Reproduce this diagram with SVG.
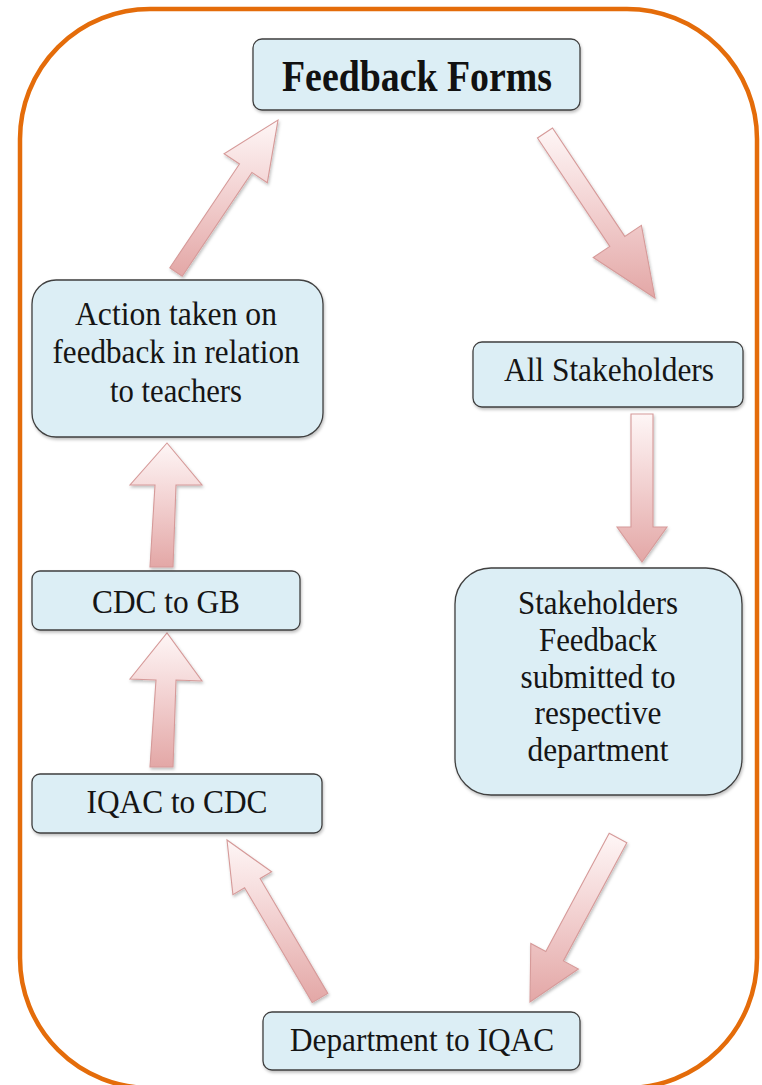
<svg xmlns="http://www.w3.org/2000/svg" width="762" height="1085" viewBox="0 0 762 1085">
<defs>
<linearGradient id="ag" x1="0" y1="0" x2="0" y2="1">
<stop offset="0" stop-color="#FEF6F6"/>
<stop offset="0.45" stop-color="#F3D3D3"/>
<stop offset="1" stop-color="#E3A7A6"/>
</linearGradient>
<filter id="sh" x="-10%" y="-10%" width="120%" height="130%">
<feDropShadow dx="1" dy="2" stdDeviation="1.5" flood-color="#000" flood-opacity="0.25"/>
</filter>
</defs>
<style>
.box{fill:#DCEEF5;stroke:#3F3F3F;stroke-width:1.3;filter:url(#sh)}
.t{font-family:'Liberation Serif','Times New Roman',serif;font-size:33px;fill:#151515;text-anchor:middle}
.tb{font-family:'Liberation Serif','Times New Roman',serif;font-size:45px;font-weight:bold;fill:#111;text-anchor:middle}
.arr{fill:url(#ag);stroke:#D69A99;stroke-width:1.1;stroke-linejoin:miter;filter:url(#sh)}
.frame{fill:none;stroke:#E46C0A;stroke-width:4.5}
</style>
<rect class="frame" x="20" y="9" width="737" height="1079" rx="130"/>
<g id="connectors">
<polygon class="arr" points="182.2,276.2 251.9,172.4 267.3,182.7 278,120 224.1,153.7 239.5,164.0 169.8,267.8"/>
<polygon class="arr" points="537.5,138.0 609.8,246.4 593.2,257.5 655,298 641.4,225.3 624.8,236.4 552.5,128.0"/>
<polygon class="arr" points="631,414 653,414 653,527 667,527 642,562 617,527 631,527"/>
<polygon class="arr" points="609.2,833.3 545.8,951.5 530.8,943.4 530,1002 578.4,969.0 563.4,960.9 626.8,842.7"/>
<polygon class="arr" points="327.8,993.4 260.1,878.5 271.6,871.8 227,840 232.9,894.6 244.6,887.7 312.2,1002.6"/>
<polygon class="arr" points="150,767 173,767 176,680 202,681 167,633 130,679 156,680"/>
<polygon class="arr" points="150,567 173,567 176,485 202,485 167,443 130,485 155,485"/>
</g>
<g id="feedback-forms">
<rect class="box" x="253" y="39" width="327" height="71" rx="9"/>
<text class="tb" x="417" y="91" textLength="270" lengthAdjust="spacingAndGlyphs">Feedback Forms</text>
</g>
<g id="all-stakeholders">
<rect class="box" x="473" y="342" width="270" height="65" rx="9"/>
<text class="t" x="609" y="381" textLength="210" lengthAdjust="spacingAndGlyphs">All Stakeholders</text>
</g>
<g id="stakeholders-feedback">
<rect class="box" x="455" y="568" width="287" height="227" rx="36"/>
<text class="t" x="598" y="614" textLength="160" lengthAdjust="spacingAndGlyphs">Stakeholders</text>
<text class="t" x="598" y="651" textLength="118" lengthAdjust="spacingAndGlyphs">Feedback</text>
<text class="t" x="598" y="688" textLength="155" lengthAdjust="spacingAndGlyphs">submitted to</text>
<text class="t" x="598" y="724" textLength="127" lengthAdjust="spacingAndGlyphs">respective</text>
<text class="t" x="598" y="761" textLength="141" lengthAdjust="spacingAndGlyphs">department</text>
</g>
<g id="department-to-iqac">
<rect class="box" x="263" y="1012" width="317" height="58" rx="9"/>
<text class="t" x="422" y="1051" textLength="264" lengthAdjust="spacingAndGlyphs">Department to IQAC</text>
</g>
<g id="iqac-to-cdc">
<rect class="box" x="32" y="774" width="290" height="59" rx="8"/>
<text class="t" x="177" y="813" textLength="181" lengthAdjust="spacingAndGlyphs">IQAC to CDC</text>
</g>
<g id="cdc-to-gb">
<rect class="box" x="32" y="571" width="268" height="59" rx="8"/>
<text class="t" x="166" y="613" textLength="148" lengthAdjust="spacingAndGlyphs">CDC to GB</text>
</g>
<g id="action-taken">
<rect class="box" x="32" y="280" width="291" height="157" rx="24"/>
<text class="t" x="176" y="325" textLength="202" lengthAdjust="spacingAndGlyphs">Action taken on</text>
<text class="t" x="176" y="363" textLength="247" lengthAdjust="spacingAndGlyphs">feedback in relation</text>
<text class="t" x="176" y="402" textLength="132" lengthAdjust="spacingAndGlyphs">to teachers</text>
</g>
</svg>
